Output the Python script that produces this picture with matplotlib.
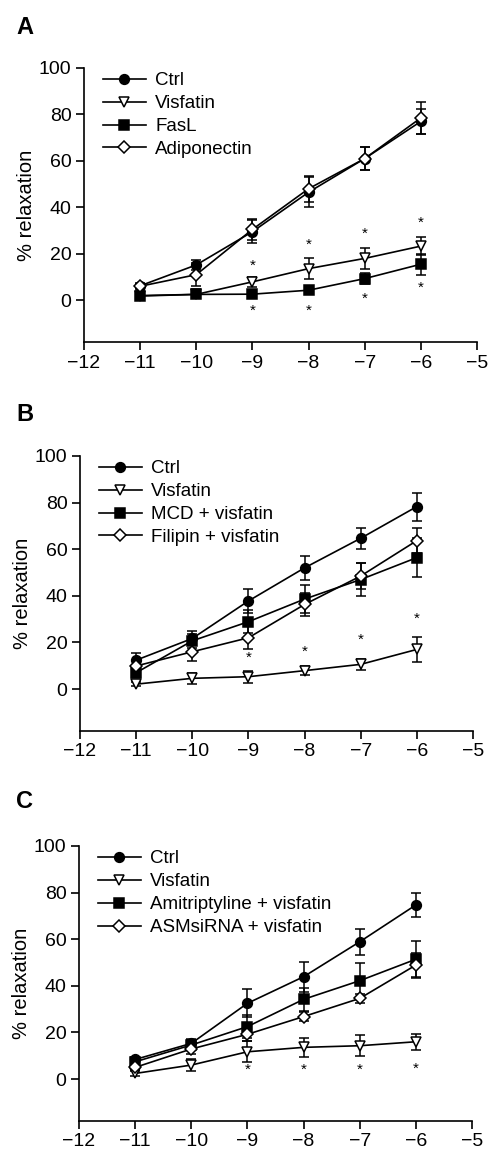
import matplotlib
matplotlib.use("Agg")
import matplotlib.pyplot as plt

plt.rcParams['font.family'] = ['Liberation Sans', 'DejaVu Sans']

conc = [-11, -10, -9, -8, -7, -6]

# Panel A
a_labels = ["Ctrl", "Visfatin", "FasL", "Adiponectin"]
a_ctrl = [6.2, 15.2, 29.5, 46.5, 61.0, 77.0]
a_ctrl_err = [1.0, 2.0, 5.0, 6.5, 5.0, 5.5]
a_visf = [2.0, 2.5, 7.9, 13.6, 18.0, 23.3]
a_visf_err = [0.5, 0.5, 2.0, 4.5, 4.5, 4.0]
a_fasl = [1.8, 2.5, 2.6, 4.3, 9.3, 15.5]
a_fasl_err = [0.5, 0.5, 0.5, 0.5, 2.5, 4.5]
a_adipo = [6.0, 11.0, 30.5, 48.0, 61.0, 78.5]
a_adipo_err = [1.0, 5.0, 4.5, 5.5, 5.0, 7.0]
a_star_x = [-9, -8, -7, -6, -9, -8, -7, -6]
a_star_y = [14.7, 23.7, 28.6, 33.3, -4.6, -4.6, 0.4, 5.3]

# Panel B
b_labels = ["Ctrl", "Visfatin", "MCD + visfatin", "Filipin + visfatin"]
b_ctrl = [12.4, 21.7, 37.8, 52.0, 64.7, 78.3]
b_ctrl_err = [3.0, 3.0, 5.0, 5.0, 4.5, 6.0]
b_visf = [2.1, 4.6, 5.3, 7.9, 10.6, 17.0]
b_visf_err = [1.0, 2.5, 2.5, 2.0, 2.5, 5.5]
b_mcd = [7.0, 20.7, 28.9, 38.6, 47.0, 56.4]
b_mcd_err = [1.5, 3.0, 5.0, 6.0, 7.0, 8.5]
b_fili = [9.9, 16.0, 22.0, 36.3, 48.5, 63.7]
b_fili_err = [2.0, 4.0, 5.0, 5.0, 5.5, 5.5]
b_star_x = [-9, -8, -7, -6]
b_star_y = [13.4, 16.0, 21.0, 30.0]

# Panel C
c_labels = ["Ctrl", "Visfatin", "Amitriptyline + visfatin", "ASMsiRNA + visfatin"]
c_ctrl = [8.4, 15.3, 32.5, 43.9, 58.9, 74.7]
c_ctrl_err = [1.0, 2.0, 6.0, 6.5, 5.5, 5.0]
c_visf = [2.4, 6.0, 11.7, 13.6, 14.3, 16.0]
c_visf_err = [1.0, 2.5, 4.5, 4.0, 4.5, 3.5]
c_amit = [7.4, 14.6, 22.5, 34.2, 42.2, 51.4]
c_amit_err = [1.0, 2.0, 5.0, 5.0, 7.5, 8.0]
c_asm = [5.0, 12.9, 19.2, 26.8, 34.6, 48.9]
c_asm_err = [1.0, 2.0, 3.0, 2.0, 2.0, 5.0]
c_star_x = [-9, -8, -7, -6]
c_star_y = [3.9, 3.9, 3.9, 4.2]

panels = [
    ("A", a_labels, [(a_ctrl, a_ctrl_err), (a_visf, a_visf_err), (a_fasl, a_fasl_err), (a_adipo, a_adipo_err)], a_star_x, a_star_y),
    ("B", b_labels, [(b_ctrl, b_ctrl_err), (b_visf, b_visf_err), (b_mcd, b_mcd_err), (b_fili, b_fili_err)], b_star_x, b_star_y),
    ("C", c_labels, [(c_ctrl, c_ctrl_err), (c_visf, c_visf_err), (c_amit, c_amit_err), (c_asm, c_asm_err)], c_star_x, c_star_y),
]

styles = [
    dict(marker='o', mfc='black', ms=7),
    dict(marker='v', mfc='white', ms=7),
    dict(marker='s', mfc='black', ms=6.5),
    dict(marker='D', mfc='white', ms=6.5),
]

W, H = 489, 1155
fig = plt.figure(figsize=(W / 100, H / 100), dpi=100)

# (left px, top px, bottom px)
geom = [(84, 68, 342), (80, 456, 731), (79, 846, 1121)]
label_pos = [(25, 27), (25, 415), (25, 802)]

for (letter, labels, series, sx, sy), (lpx, tpx, bpx), (lx, ly) in zip(panels, geom, label_pos):
    ax = fig.add_axes([lpx / W, 1 - bpx / H, 393 / W, (bpx - tpx) / H])
    handles = []
    for (vals, errs), lab, st in zip(series, labels, styles):
        cont = ax.errorbar(conc, vals, yerr=errs, color='black', lw=1.2, capsize=3.5,
                           elinewidth=1.1, capthick=1.1, mec='black', mew=1.1,
                           label=lab, **st)
        handles.append(cont.lines[0])
    for x, y in zip(sx, sy):
        ax.text(x, y, "*", ha='center', va='center', fontsize=11, color='black')
    ax.set_xlim(-12, -5)
    ax.set_ylim(-18, 100)
    ax.set_xticks(range(-12, -4))
    ax.set_yticks([0, 20, 40, 60, 80, 100])
    ax.spines['top'].set_visible(False)
    ax.spines['right'].set_visible(False)
    for s in ['left', 'bottom']:
        ax.spines[s].set_linewidth(1.2)
    ax.tick_params(direction='out', length=6, width=1.2, labelsize=14, pad=3)
    ax.set_ylabel("% relaxation", fontsize=14.5, labelpad=2)
    ax.legend(handles, labels, loc='upper left', bbox_to_anchor=(0.048, 0.985), frameon=False,
              fontsize=13.5, handlelength=2.3, handletextpad=0.5,
              labelspacing=0.31, borderaxespad=0, borderpad=0)
    fig.text(lx / W, 1 - ly / H, letter, fontsize=17, fontweight='bold',
             ha='center', va='center')

fig.savefig("out.png", dpi=100)
